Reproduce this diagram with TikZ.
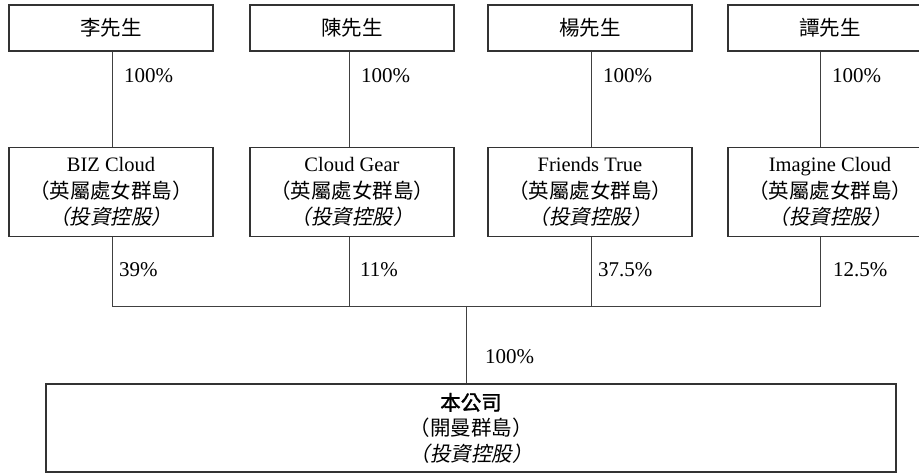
\documentclass[tikz,border=0pt]{standalone}
\usepackage{fontspec}
\setmainfont{Liberation Serif}
\newfontfamily\cjk{Noto Sans CJK TC}
\newfontfamily\cjkit[FakeSlant=0.2]{Noto Sans CJK TC}
\newfontfamily\cjkbf[FakeBold=1.5]{Noto Sans CJK TC}
\begin{document}
\begin{tikzpicture}[x=1pt,y=-1pt,
  font=\fontsize{20.5}{25.5}\selectfont,
  box/.style={draw=black!80, line width=1.1pt, minimum height=46pt, minimum width=204pt, inner sep=0pt, align=center},
  mid/.style={box, minimum height=89pt, font=\fontsize{20.5}{26.5}\selectfont},
  conn/.style={draw=black!75, line width=0.9pt},
  pct/.style={anchor=base west, inner sep=0pt, font=\fontsize{21}{25}\selectfont}]
\useasboundingbox (0,0) rectangle (919,473);
% top owners
\node[box] (p1) at (111,28) {\cjk 李先生};
\node[box] (p2) at (352,28) {\cjk 陳先生};
\node[box] (p3) at (590,28) {\cjk 楊先生};
\node[box] (p4) at (830,28) {\cjk 譚先生};
% holding companies
\node[mid] (m1) at (111,192) {BIZ Cloud\\{\cjk （英屬處女群島）}\\{\cjkit （投資控股）}};
\node[mid] (m2) at (352,192) {Cloud Gear\\{\cjk （英屬處女群島）}\\{\cjkit （投資控股）}};
\node[mid] (m3) at (590,192) {Friends True\\{\cjk （英屬處女群島）}\\{\cjkit （投資控股）}};
\node[mid] (m4) at (830,192) {Imagine Cloud\\{\cjk （英屬處女群島）}\\{\cjkit （投資控股）}};
% company
\node[box, minimum width=850pt, minimum height=88pt] (co) at (471,428) {{\cjkbf 本公司}\\{\cjk （開曼群島）}\\{\cjkit （投資控股）}};
% coordinates
\coordinate (b1) at (112,306);
\coordinate (b2) at (349,306);
\coordinate (b3) at (591,306);
\coordinate (b4) at (820,306);
\coordinate (j) at (466,306);
% connectors
\draw[conn] (p1.south -| b1) -- (m1.north -| b1);
\draw[conn] (p2.south -| b2) -- (m2.north -| b2);
\draw[conn] (p3.south -| b3) -- (m3.north -| b3);
\draw[conn] (p4.south -| b4) -- (m4.north -| b4);
\draw[conn] (m1.south -| b1) -- (b1) -- (b4) -- (m4.south -| b4);
\draw[conn] (m2.south -| b2) -- (b2);
\draw[conn] (m3.south -| b3) -- (b3);
\draw[conn] (j) -- (co.north -| j);
% labels
\node[pct] (t1) at (124,83) {100\%};
\node[pct] (t2) at (361,83) {100\%};
\node[pct] (t3) at (603,83) {100\%};
\node[pct] (t4) at (832,83) {100\%};
\node[pct] (s1) at (119,277) {39\%};
\node[pct] (s2) at (360,277) {11\%};
\node[pct] (s3) at (598,277) {37.5\%};
\node[pct] (s4) at (833,277) {12.5\%};
\node[pct] (s5) at (485,363) {100\%};
\end{tikzpicture}
\end{document}
